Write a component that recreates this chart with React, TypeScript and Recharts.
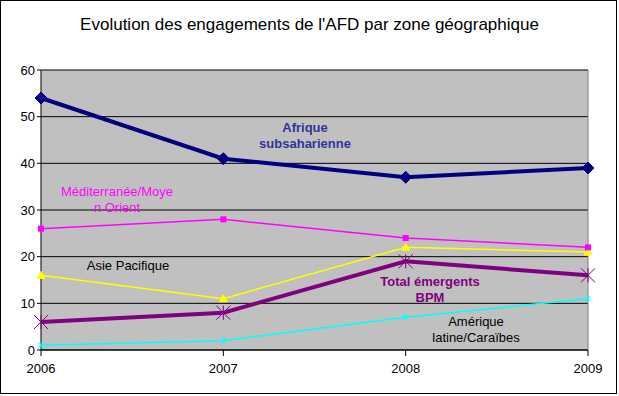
import { CartesianGrid, Line, LineChart, ReferenceLine, XAxis, YAxis } from 'recharts';

const years = ['2006', '2007', '2008', '2009'];
const afrique = [54, 41, 37, 39];
const mediterranee = [26, 28, 24, 22];
const asie = [16, 11, 22, 21];
const emergents = [6, 8, 19, 16];
const amerique = [1, 2, 7, 11];
const yTicks = [0, 10, 20, 30, 40, 50, 60];

const data = years.map((year, i) => ({
  year,
  afrique: afrique[i],
  mediterranee: mediterranee[i],
  asie: asie[i],
  emergents: emergents[i],
  amerique: amerique[i],
}));

const font = '"Liberation Sans", Arial, sans-serif';

const Diamond = ({ cx, cy }: any) => (
  <path d={`M${cx},${cy - 6}L${cx + 6},${cy}L${cx},${cy + 6}L${cx - 6},${cy}Z`} fill="#000080" stroke="#000080" />
);
const Square = ({ cx, cy }: any) => <rect x={cx - 3} y={cy - 3} width={6} height={6} fill="#FF00FF" />;
const Triangle = ({ cx, cy }: any) => (
  <path d={`M${cx},${cy - 4}L${cx + 4},${cy + 3}L${cx - 4},${cy + 3}Z`} fill="#FFFF00" stroke="#FFFF00" />
);
const star = (color: string, s: number, w: number) => ({ cx, cy }: any) => (
  <g stroke={color} strokeWidth={w} fill="none">
    <path d={`M${cx - s},${cy - s}L${cx + s},${cy + s}M${cx - s},${cy + s}L${cx + s},${cy - s}M${cx},${cy - s}L${cx},${cy + s}`} />
  </g>
);

const labelStyle = (color: string, bold = false): React.CSSProperties => ({
  position: 'absolute',
  fontFamily: font,
  fontSize: 13,
  fontWeight: bold ? 'bold' : 'normal',
  color,
  textAlign: 'center',
  lineHeight: '16px',
  whiteSpace: 'nowrap',
  transform: 'translateX(-50%)',
});

export default function App() {
  return (
    <div style={{ position: 'absolute', left: 0, top: 0, width: 619, height: 396, background: '#fff' }}>
      <style>{'body{margin:0}'}</style>
      <div
        style={{
          position: 'absolute',
          left: 0,
          top: 0,
          width: 617,
          height: 394,
          border: '1px solid #000',
          boxSizing: 'border-box',
        }}
      />
      <div
        style={{
          position: 'absolute',
          top: 15,
          left: 0,
          width: 619,
          textAlign: 'center',
          fontFamily: font,
          fontSize: 17,
          color: '#000',
        }}
      >
        Evolution des engagements de l'AFD par zone géographique
      </div>
      <LineChart
        width={619}
        height={396}
        data={data}
        margin={{ top: 70, right: 31, bottom: 0, left: 0 }}
        style={{ position: 'absolute', left: 0, top: 0 }}
      >
        <CartesianGrid fill="#C0C0C0" fillOpacity={1} stroke="#000" vertical={false} />
        <XAxis
          dataKey="year"
          height={46}
          stroke="#000"
          tick={{ fill: '#000', fontSize: 13, fontFamily: font }}
          tickSize={6}
          tickMargin={8}
        />
        <YAxis
          width={41}
          domain={[0, 60]}
          ticks={yTicks}
          stroke="#000"
          tick={{ fill: '#000', fontSize: 13, fontFamily: font }}
          tickSize={4}
        />
        <ReferenceLine x="2009" stroke="#808080" />
        <Line dataKey="amerique" stroke="#00FFFF" strokeWidth={1.5} dot={star('#00FFFF', 3, 1)} isAnimationActive={false} />
        <Line dataKey="asie" stroke="#FFFF00" strokeWidth={1.5} dot={Triangle} isAnimationActive={false} />
        <Line dataKey="mediterranee" stroke="#FF00FF" strokeWidth={1.5} dot={Square} isAnimationActive={false} />
        <Line dataKey="emergents" stroke="#800080" strokeWidth={4} dot={star('#800080', 7, 1)} isAnimationActive={false} />
        <Line dataKey="afrique" stroke="#000080" strokeWidth={4} dot={Diamond} isAnimationActive={false} />
      </LineChart>
      <div style={{ ...labelStyle('#333399', true), left: 305, top: 120 }}>
        Afrique
        <br />
        subsaharienne
      </div>
      <div style={{ ...labelStyle('#FF00FF'), left: 117, top: 184 }}>
        Méditerranée/Moye
        <br />
        n Orient
      </div>
      <div style={{ ...labelStyle('#000'), left: 128, top: 258 }}>Asie Pacifique</div>
      <div style={{ ...labelStyle('#800080', true), left: 430, top: 274 }}>
        Total émergents
        <br />
        BPM
      </div>
      <div style={{ ...labelStyle('#000'), left: 476, top: 314 }}>
        Amérique
        <br />
        latine/Caraïbes
      </div>
    </div>
  );
}
